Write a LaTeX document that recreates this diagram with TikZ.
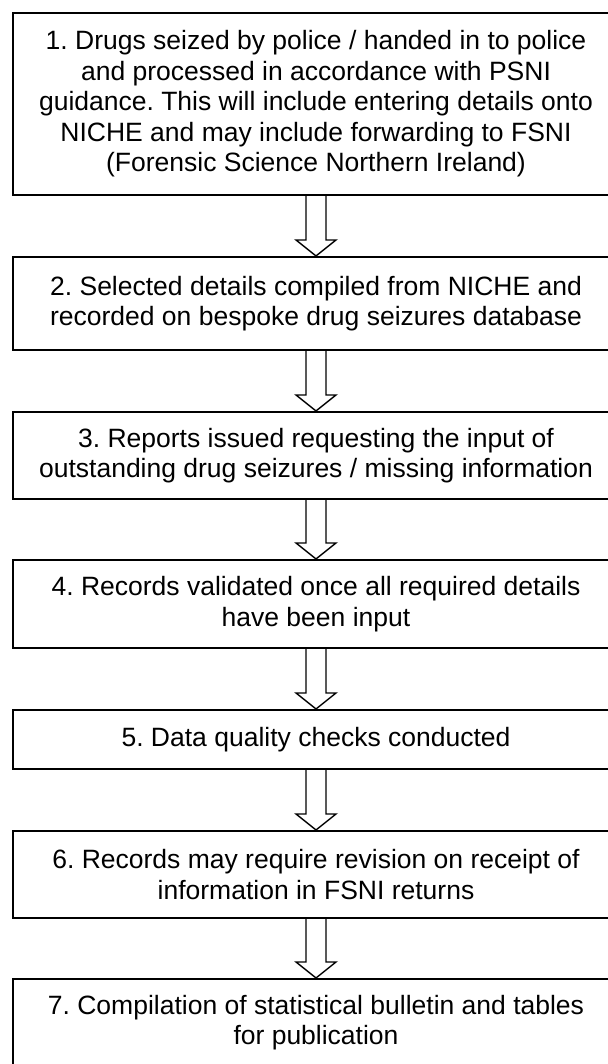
\documentclass[tikz,border=0pt]{standalone}
\usepackage{fontspec}
\setmainfont{Liberation Sans}
\usepackage{tikz}
\usetikzlibrary{calc}
\frenchspacing

\begin{document}
\begin{tikzpicture}[x=0.5pt, y=0.5pt,
    stage/.style={draw, line width=1pt, minimum width=303pt, inner sep=0pt, align=center,
                  font=\fontsize{13.25}{15.25}\selectfont},
    hollow/.style={line width=0.7pt, line join=miter}]
                \useasboundingbox (0,0) rectangle (607,1064);
                \node[stage, minimum height=91pt] (s1) at (316,960) {1. Drugs seized by police / handed in to police\\ and processed in accordance with PSNI\\ guidance. This will include entering details onto\\ NICHE and may include forwarding to FSNI\\ (Forensic Science Northern Ireland)};
                \node[stage, minimum height=46.5pt] (s2) at (316,760.5) {2. Selected details compiled from NICHE and\\ recorded on bespoke drug seizures database};
                \node[stage, minimum height=43.5pt] (s3) at (316,608.5) {3. Reports issued requesting the input of\\ outstanding drug seizures / missing information};
                \node[stage, minimum height=44pt] (s4) at (316,460) {4. Records validated once all required details\\ have been input};
                \node[stage, minimum height=29.5pt] (s5) at (316,324.5) {5. Data quality checks conducted};
                \node[stage, minimum height=43.5pt] (s6) at (316,189.5) {6. Records may require revision on receipt of\\ information in FSNI returns};
                \node[stage, minimum height=43.5pt] (s7) at (316,41.5) {7. Compilation of statistical bulletin and tables\\ for publication};
                % hollow block arrows between the stages
                \foreach \a/\b in {s1/s2, s2/s3, s3/s4, s4/s5, s5/s6, s6/s7}
                    \draw[hollow] ($(\a.south)+(-10,0)$) -- ($(\b.north)+(-10,16)$) -- ($(\b.north)+(-20,16)$)
                        -- (\b.north) -- ($(\b.north)+(20,16)$) -- ($(\b.north)+(10,16)$) -- ($(\a.south)+(10,0)$);
            \end{tikzpicture}
\end{document}
